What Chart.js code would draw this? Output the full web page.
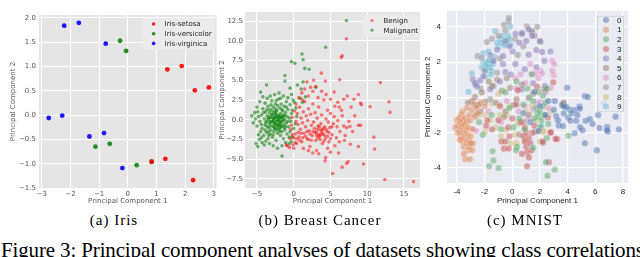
<!DOCTYPE html>
<html>
<head>
<meta charset="utf-8">
<script src="https://cdn.jsdelivr.net/npm/chart.js@4.4.0/dist/chart.umd.min.js"></script>
<style>
  html, body { margin: 0; padding: 0; background: #fff; }
  body { width: 640px; height: 257px; overflow: hidden; position: relative; }
  canvas { position: absolute; top: 0; }
  #irisChart { left: 0; }
  #cancerChart { left: 217px; }
  #mnistChart { left: 423px; }
  .sub { position: absolute; top: 213px; font: 15px "Liberation Serif", serif; line-height: 15px;
         letter-spacing: 1px; white-space: nowrap; transform: translateX(-50%); color: #000; }
  #figcap { position: absolute; left: 1px; top: 240px; font: 21px "Liberation Serif", serif;
            line-height: 21px; white-space: nowrap; color: #000; }
</style>
</head>
<body>
<canvas id="irisChart" width="218" height="207"></canvas>
<canvas id="cancerChart" width="206" height="207"></canvas>
<canvas id="mnistChart" width="217" height="207"></canvas>
<div class="sub" style="left:114px">(a) Iris</div>
<div class="sub" style="left:320px">(b) Breast Cancer</div>
<div class="sub" style="left:525px">(c) MNIST</div>
<div id="figcap">Figure 3: Principal component analyses of datasets showing class correlations</div>
<script>
// ---- Iris ----
const irisLabels = ['Iris-setosa', 'Iris-versicolor', 'Iris-virginica'];
const irisSetosa = [[1.38, 0.94], [1.88, 1.01], [2.34, 0.51], [2.83, 0.57], [1.31, -0.90], [2.28, -1.34], [0.83, -0.96]];
const irisVersicolor = [[-0.27, 1.53], [-0.06, 1.32], [-1.13, -0.65], [-0.63, -0.59], [0.31, -1.03], [0.83, -0.96]];
const irisVirginica = [[-2.76, -0.06], [-2.29, -0.01], [-2.22, 1.84], [-1.71, 1.90], [-0.77, 1.47], [-1.34, -0.44],
  [-0.83, -0.37], [-0.19, -1.09]];
const irisXTicks = [-3, -2, -1, 0, 1, 2, 3];
const irisYTicks = [-1.5, -1.0, -0.5, 0.0, 0.5, 1.0, 1.5, 2.0];

// ---- Breast Cancer ----
const cancerLabels = ['Benign', 'Malignant'];
const benign = [
  [0.2, -1.8], [0.4, -3.0], [0.5, 0.8], [0.6, -0.6], [0.7, -2.2], [0.8, 1.6], [0.9, -1.2], [1.0, 0.2], [1.1, -2.8],
  [1.2, -0.4], [1.3, 1.0], [1.4, -1.7], [1.5, 2.3], [1.6, -0.9], [1.7, 0.5], [1.8, -2.4], [1.9, -0.1], [2.0, 1.4],
  [2.1, -1.4], [2.2, -3.4], [2.3, 0.7], [2.4, -0.7], [2.5, -2.0], [2.6, 2.0], [2.7, -0.3], [2.8, -1.1], [2.9, 0.9],
  [3.0, -2.6], [3.1, -1.6], [3.2, 0.2], [3.3, -0.8], [3.4, 1.6], [3.5, -2.1], [3.6, -1.3], [3.7, -0.5], [3.8, 0.6],
  [3.9, -3.0], [4.0, -1.8], [4.1, 2.5], [4.2, -0.9], [4.3, -2.4], [4.4, 0.1], [4.5, -1.5], [4.6, 1.2], [4.7, -0.3],
  [4.8, -2.8], [4.9, -1.0], [5.0, 0.8], [5.2, -1.9], [5.4, -0.5], [5.6, 1.7], [5.8, -2.3], [6.0, -0.1], [6.3, -1.5],
  [6.6, 0.5], [6.9, -2.6], [7.2, -1.0], [3.2, -1.2], [3.4, -1.9], [3.6, -2.5], [3.8, -1.6], [4.0, -1.1], [4.2, -2.0],
  [3.3, -2.3], [3.5, -0.9], [3.7, -1.9], [3.9, -1.3], [4.1, -2.7], [3.1, -2.0], [2.9, -1.6], [4.4, -1.2], [4.6, -2.1],
  [4.8, -1.6], [5.0, -2.4], [5.2, -0.9], [2.6, -1.5], [2.4, -2.6], [2.2, -1.8], [2.0, -2.5], [1.8, -1.5], [1.6, -2.1],
  [1.2, -2.3], [1.0, -1.7], [0.8, -2.6], [0.6, -1.6], [0.4, -2.4], [0.2, -2.9], [0.0, -2.3], [-0.2, -1.9], [-0.1, -3.2],
  [-0.6, -3.5], [-0.9, -3.3], [-0.4, -1.2], [-0.2, 0.3], [0.1, 1.1], [0.3, 2.0], [0.7, 2.8], [1.1, 3.4], [1.5, 3.9],
  [1.2, 2.5], [2.0, 3.0], [2.6, 3.6], [3.0, 4.2], [3.3, 2.8], [3.8, 3.6], [4.4, 3.2], [5.0, 2.6], [5.5, 3.5], [6.0, 2.2],
  [6.5, 1.2], [6.8, 2.6], [7.3, 3.0], [7.8, 1.6], [8.2, 2.6], [8.8, 3.2], [9.1, 2.1], [9.2, 1.9], [10.4, 1.65],
  [12.96, 2.28], [13.1, 0.93], [11.78, 4.7], [6.25, 5.07], [3.76, 5.9], [1.8, 4.8], [2.3, 4.1], [4.3, 4.9], [2.7, 5.0],
  [6.48, 7.9], [6.6, 8.1], [7.16, 10.24], [1.3, -3.6], [2.0, -3.9], [2.6, -4.2], [3.1, -3.9], [3.4, -4.3], [4.25, -5.2],
  [4.35, -4.8], [5.3, -6.8], [6.6, -6.0], [7.2, -5.5], [7.4, -5.3], [9.5, -5.6], [12.4, -7.57], [16.3, -7.83],
  [10.9, -2.2], [11.0, -3.7], [8.8, -3.4], [7.7, -3.1], [8.8, -0.7], [9.1, -0.7], [7.65, -0.85], [5.6, -3.3], [6.1, -4.2],
  [5.0, -4.1], [4.6, -3.6], [6.2, -2.8], [7.0, -2.0], [7.5, -0.2], [8.3, 0.5], [6.8, -0.8], [5.9, -0.9], [5.5, 0.4],
  [6.2, 1.6], [8.0, -1.5], [0.0, -3.6], [-0.5, -2.4], [-1.0, -3.2], [-0.3, -0.7], [0.3, -0.2]
];
const malignant = [
  [-4.6, -0.2], [-4.4, 0.6], [-4.3, -1.1], [-4.2, 1.4], [-4.1, -2.0], [-4.0, 0.1], [-3.9, -0.7], [-3.9, 2.1], [-3.8, 1.0],
  [-3.7, -1.6], [-3.7, -0.2], [-3.6, 0.5], [-3.5, -2.4], [-3.5, 1.7], [-3.4, -1.0], [-3.4, 0.0], [-3.3, 0.9], [-3.3, -0.5],
  [-3.2, -1.8], [-3.2, 1.3], [-3.1, 0.3], [-3.1, -1.3], [-3.0, -0.2], [-3.0, 2.4], [-2.9, 0.7], [-2.9, -2.2], [-2.8, -0.8],
  [-2.8, 1.6], [-2.7, 0.1], [-2.7, -1.5], [-2.6, 0.9], [-2.6, -0.4], [-2.5, 2.0], [-2.5, -1.1], [-2.4, 0.4], [-2.4, -2.6],
  [-2.3, -0.1], [-2.3, 1.2], [-2.2, -1.7], [-2.2, 0.6], [-2.1, -0.7], [-2.1, 2.6], [-2.0, 0.1], [-2.0, -1.2], [-1.9, 1.5],
  [-1.9, -0.3], [-1.8, -2.0], [-1.8, 0.8], [-1.7, -0.9], [-1.7, 2.0], [-1.6, 0.3], [-1.6, -1.5], [-1.5, -0.2], [-1.5, 1.1],
  [-1.4, -2.4], [-1.4, 0.6], [-1.3, -0.6], [-1.3, 1.7], [-1.2, 0.0], [-1.2, -1.3], [-1.1, 0.9], [-1.0, -0.4], [-1.0, 2.3],
  [-0.9, -1.8], [-0.9, 0.4], [-0.8, 1.3], [-0.7, -0.9], [-0.6, 0.2], [-0.5, -1.5], [-0.5, 1.9], [-0.4, -0.2], [-0.3, 0.8],
  [-0.2, -2.2], [-0.1, 2.5], [-3.6, -0.9], [-3.3, 0.3], [-2.9, -0.3], [-2.6, 0.3], [-2.4, -0.6], [-2.2, -0.2], [-2.0, 0.4],
  [-1.8, -0.5], [-3.0, 0.6], [-2.7, -0.9], [-2.5, 0.7], [-2.3, -1.3], [-2.1, 0.0], [-1.9, -1.0], [-3.4, -1.5], [-3.1, -0.8],
  [-2.8, 0.2], [-2.6, -1.1], [-2.4, 1.0], [-2.2, -0.9], [-1.9, 0.5], [-1.7, -0.2], [-1.5, 0.4], [-1.3, -1.0], [-3.8, -0.4],
  [-3.5, 0.2], [-3.2, -0.3], [-2.9, 1.1], [-2.7, -0.1], [-2.5, -0.5], [-2.3, 0.3], [-2.0, -0.6], [-1.8, 0.2], [-1.6, -0.8],
  [-1.4, 0.1], [-1.2, 0.5], [-4.5, -1.5], [-4.8, 0.4], [-5.0, -0.8], [-5.2, 0.1], [-4.9, 1.0], [-4.7, -2.5], [-4.3, -2.9],
  [-4.0, -3.2], [-3.8, -2.7], [-3.3, -3.0], [-2.8, -3.3], [-4.6, 2.3], [-4.2, 2.9], [-3.6, 2.7], [-3.2, 3.0], [-2.6, 3.2],
  [-2.0, 3.4], [-1.4, 3.0], [-0.8, 2.8], [-0.3, 3.2], [0.1, 2.2], [0.3, 1.5], [0.4, 0.4], [0.2, -0.5], [0.0, -1.1],
  [-0.3, -2.8], [-0.6, -3.0], [-1.1, -2.9], [-1.6, -3.3], [-2.2, -3.6], [-5.3, 0.9], [-5.7, 0.5], [-5.5, -0.4],
  [-5.1, -3.0], [-4.9, -3.4], [-4.5, 3.5], [-3.7, 4.4], [-1.2, 5.6], [-1.2, 4.9], [-0.5, 4.0], [0.5, 4.4], [1.0, 3.9],
  [0.9, 2.7], [-0.32, 7.36], [0.14, 7.15], [1.13, 8.33], [1.27, 7.6], [1.5, 6.5], [2.1, 6.4], [4.35, 9.18], [7.16, 12.56],
  [-1.6, -4.6], [1.6, 2.9], [3.0, 4.1], [1.27, 4.8], [1.2, 2.2], [-4.4, -0.6], [-4.1, 0.9], [-3.9, -1.3], [-3.6, 1.3],
  [-3.4, -2.0], [-3.1, 1.9], [-2.8, -1.9], [-2.5, 1.4], [-2.2, 1.8], [-1.9, -1.5], [-1.6, 1.3], [-1.1, -0.9], [-0.8, -0.2],
  [-4.8, -1.9], [-5.0, 1.6], [-4.4, -2.3], [-2.4, 2.4], [-1.8, 2.7], [-0.6, -2.2], [-1.0, 1.6], [-0.2, 1.2]
];
const cancerXTicks = [-5, 0, 5, 10, 15];
const cancerYTicks = [-7.5, -5.0, -2.5, 0.0, 2.5, 5.0, 7.5, 10.0, 12.5];

// ---- MNIST ----
const mnistLabels = ['0', '1', '2', '3', '4', '5', '6', '7', '8', '9'];
const digit0 = [[3.96, 0.55], [5.24, 0.07], [5.46, 0.02], [3.07, -0.2], [3.6, -0.43], [3.72, -0.52], [4.16, -0.7],
  [4.52, -0.71], [4.86, -0.52], [4.88, -0.64], [3.72, -0.91], [3.17, -1.05], [4.04, -1.14], [4.2, -1.32], [4.62, -1.32],
  [5.3, -1.32], [5.6, -1.23], [6.2, -1.0], [7.46, -1.09], [3.36, -1.59], [3.65, -1.62], [4.5, -2.03], [5.07, -1.86],
  [5.24, -2.6], [6.1, -3.0], [6.3, -1.73], [6.86, -1.68], [6.9, -1.94], [6.84, -1.86], [7.7, -1.82], [6.6, -0.35],
  [1.6, 0.32], [4.3, -0.9], [3.9, -0.55], [4.7, -1.0], [2.0, -0.5], [1.3, -1.4], [0.8, -0.9], [2.4, -1.0], [1.9, -1.9],
  [2.6, -0.2], [3.3, -1.3], [5.8, -1.5], [4.9, -1.7], [3.0, -0.7]];
const digit1 = [[-4.0, -1.3], [-3.9, -1.6], [-3.85, -1.2], [-3.8, -1.9], [-3.75, -1.45], [-3.7, -2.2], [-3.7, -1.0],
  [-3.65, -1.7], [-3.6, -2.5], [-3.6, -1.3], [-3.55, -2.0], [-3.5, -2.8], [-3.5, -1.55], [-3.45, -2.3], [-3.4, -1.15],
  [-3.4, -3.5], [-3.35, -1.85], [-3.3, -2.6], [-3.3, -1.4], [-3.25, -2.1], [-3.2, -3.0], [-3.2, -1.7], [-3.15, -2.45],
  [-3.1, -1.0], [-3.1, -2.8], [-3.07, -3.5], [-3.05, -1.3], [-3.0, -2.2], [-2.95, -0.7], [-2.9, -1.8], [-2.85, -2.6],
  [-2.8, -0.4], [-2.7, -1.1], [-2.6, -0.6], [-2.5, -0.9], [-3.8, -2.4], [-3.95, -2.0], [-3.6, -0.8], [-3.3, -0.6],
  [-2.9, -3.0], [-4.1, -1.7], [-3.5, -3.2], [-3.0, -2.6], [-2.3, -0.3], [-2.0, -0.5]];
const digit2 = [[-1.67, -3.9], [-1.36, -3.57], [-1.0, -4.0], [-1.43, -3.05], [2.44, -3.67], [2.54, -4.44], [3.07, -4.1],
  [4.05, -2.17], [1.5, -2.85], [0.34, -2.8], [0.27, -3.0], [-2.13, -2.12], [0.07, -1.7], [2.03, -1.68], [2.5, -2.3],
  [1.7, -0.6], [1.8, -0.9], [1.9, -1.1], [2.0, -0.8], [2.1, -1.3], [2.2, -0.5], [2.3, -1.0], [2.4, -0.3], [1.6, -1.2],
  [1.5, -0.2], [2.2, 0.1], [1.9, 0.3], [2.5, 0.5], [1.2, 0.0], [0.8, -0.4], [0.5, -1.2], [-0.2, -0.6], [-0.8, -1.8],
  [0.9, -1.8], [1.1, 0.5], [2.6, -1.5], [-1.5, -1.0], [-0.5, 0.3], [0.3, 0.9], [1.4, 1.3], [-2.4, -1.4]];
const digit3 = [[1.07, -3.9], [-0.6, -2.9], [-0.27, -2.9], [-0.8, -2.5], [-0.5, -2.5], [-1.47, -1.82], [2.78, -1.96],
  [3.24, -2.37], [3.13, -2.35], [2.76, -2.0], [2.96, 0.86], [2.57, -1.14], [2.64, -3.67], [0.8, -2.2], [0.9, -2.5],
  [1.0, -2.8], [1.1, -3.1], [1.2, -2.3], [1.3, -2.6], [1.4, -3.0], [1.0, -2.0], [0.7, -3.2], [1.2, -3.4], [0.9, -1.7],
  [1.45, -2.0], [0.6, -1.4], [0.0, -1.2], [-0.3, -1.7], [-1.0, -1.3], [-1.8, -1.3], [-0.9, -0.5], [0.3, -0.4], [1.6, -1.6],
  [2.2, -2.5], [0.4, 0.4], [1.8, 0.6], [-0.2, -2.2], [-1.9, -1.6]];
const digit4 = [[-1.1, 2.7], [-0.5, 3.2], [0.22, 3.6], [0.7, 3.6], [1.18, 3.85], [1.43, 3.49], [1.74, 2.69], [2.15, 2.57],
  [2.32, 2.07], [2.76, 2.6], [1.18, 2.42], [0.02, 2.6], [-0.67, 2.34], [-0.67, 1.89], [-1.36, 2.07], [-0.5, 1.44],
  [0.22, 1.89], [-2.85, 1.03], [-2.7, 0.82], [-2.56, 0.64], [-2.32, 0.96], [-1.6, 0.46], [0.7, 0.46], [1.74, 1.71],
  [2.35, 0.64], [0.5, 3.1], [-0.2, 2.9], [1.0, 3.2], [-1.6, 2.4], [-2.1, 1.2], [-0.1, 1.3], [0.9, 1.6], [1.5, 0.8],
  [-0.9, 0.9], [2.0, 3.2]];
const digit5 = [[-1.47, 0.64], [-0.75, 0.37], [-0.15, 0.55], [0.7, 0.73], [-2.2, 0.28], [-2.7, 0.02], [-2.56, -0.43],
  [-1.96, -0.25], [-0.5, -0.79], [0.1, -0.43], [3.67, -0.43], [3.7, -0.3], [2.32, 0.46], [1.67, -1.94], [2.22, -2.57],
  [-1.1, 1.0], [-0.4, 1.1], [0.3, -0.1], [-1.2, -0.3], [1.2, -1.0], [0.8, -1.4], [-0.6, -1.1], [1.5, 0.2], [-2.3, -0.8],
  [-2.9, -0.2], [0.5, -2.1], [-1.7, 0.9], [-3.2, -0.3]];
const digit6 = [[2.87, 2.07], [3.04, 1.89], [2.03, 1.53], [2.15, 1.35], [3.0, 1.26], [2.76, 0.55], [2.4, 0.37], [1.8, -0.34],
  [2.0, -0.25], [1.43, 1.35], [0.22, 1.09], [0.94, 0.82], [1.67, 1.35], [1.9, 1.09], [2.4, 0.28], [1.18, -0.07],
  [0.46, -0.79], [-1.72, -0.79], [-2.8, -1.82], [-2.6, -1.9], [0.9, -0.5], [1.5, -0.7], [0.3, 0.5], [2.6, -0.6],
  [-0.4, -0.2], [1.1, -1.2], [2.9, 1.5], [1.3, 1.9], [0.6, 1.3], [-0.8, -1.4]];
const digit7 = [[-0.27, 4.3], [-0.25, 4.5], [1.07, 4.03], [0.7, 3.67], [1.4, 3.7], [-1.84, 3.14], [-1.47, 3.32],
  [-2.5, 2.34], [-2.2, 2.25], [2.03, 3.14], [-0.5, 3.8], [-1.36, 0.64], [-2.44, -0.43], [-2.7, -0.96], [1.43, 3.76],
  [1.6, 3.49], [0.2, 3.3], [-1.0, 3.5], [-0.9, 2.2], [0.8, 2.9], [-2.0, 1.5], [-1.1, 1.4], [-2.3, 0.5], [-1.6, -0.1],
  [0.4, 2.4], [3.7, -0.35], [1.8, 4.0], [-0.6, 4.1]];
const digit8 = [[-1.47, -0.34], [-0.9, -0.4], [-0.2, -0.5], [-2.0, -1.0], [-0.9, -1.0], [-1.96, -1.94], [-1.2, -1.7],
  [-0.46, -1.86], [0.9, -2.39], [1.0, -2.5], [0.29, -2.6], [1.9, -1.92], [2.22, -1.9], [1.67, -1.32], [2.28, -1.94],
  [-0.4, -1.0], [0.4, -1.5], [-1.6, -1.3], [1.4, -0.5], [0.2, -2.1], [-2.4, -1.0], [-0.1, -2.6], [2.0, -2.5], [1.0, -0.8],
  [-0.8, -2.2], [2.8, -0.8], [-1.0, 0.2]];
const digit9 = [[-1.24, 3.76], [-0.87, 3.32], [-0.5, 2.96], [-1.0, 2.87], [-0.39, 3.22], [-0.15, 4.03], [-2.09, 1.98],
  [-1.84, 1.98], [-1.72, 1.8], [-1.84, 1.62], [-1.96, 1.53], [-1.47, 2.07], [-2.92, 1.35], [-2.7, 0.73], [-1.96, 1.18],
  [-3.17, 0.32], [-2.09, 2.51], [-1.72, 2.6], [2.1, -1.59], [-0.7, 3.5], [-0.3, 3.5], [-0.6, 3.0], [-0.8, 3.1],
  [-0.2, 3.3], [-1.1, 3.1], [-1.6, 1.7], [-1.5, 1.5], [-1.9, 1.8], [-1.7, 2.1], [-1.4, 1.9], [-1.3, 2.3], [-2.2, 1.7],
  [-1.55, 1.3], [-0.1, 3.0]];
const mnistXTicks = [-4, -2, 0, 2, 4, 6, 8];
const mnistYTicks = [-4, -2, 0, 2, 4];

// ---- helpers ----
const areaBg = {
  id: 'areaBg',
  beforeDraw(chart, args, o) {
    const { ctx, chartArea: a } = chart;
    ctx.save();
    ctx.fillStyle = o.color;
    ctx.fillRect(a.left, a.top, a.right - a.left, a.bottom - a.top);
    ctx.restore();
  }
};

// legend drawn inside the plot, top right corner
const insideLegend = {
  id: 'insideLegend',
  afterDatasetsDraw(chart, args, o) {
    const { ctx, chartArea: a } = chart;
    const x0 = a.right - o.right - o.width;
    const y0 = a.top + o.top;
    ctx.save();
    ctx.fillStyle = o.bg;
    ctx.fillRect(x0, y0, o.width, o.height);
    if (o.border) {
      ctx.strokeStyle = o.border;
      ctx.lineWidth = 0.8;
      ctx.strokeRect(x0 + 0.5, y0 + 0.5, o.width - 1, o.height - 1);
    }
    ctx.font = o.font;
    ctx.textBaseline = 'middle';
    chart.data.datasets.forEach((ds, i) => {
      const cy = y0 + o.first + o.rowH * i;
      ctx.beginPath();
      ctx.arc(x0 + o.markX, cy, o.r, 0, Math.PI * 2);
      ctx.fillStyle = ds.backgroundColor;
      ctx.fill();
      ctx.fillStyle = o.color;
      ctx.fillText(ds.label, x0 + o.textX, cy + 0.5);
    });
    ctx.restore();
  }
};

const minus = (s) => s.replace('-', '\u2212');

function axis(o) {
  return {
    type: 'linear',
    min: o.min,
    max: o.max,
    afterBuildTicks: (s) => { s.ticks = o.ticks.map((v) => ({ value: v })); },
    afterFit: (s) => {
      if (o.width) s.width = o.width;
      if (o.height) s.height = o.height;
    },
    grid: { color: '#ffffff', lineWidth: o.gridW, drawTicks: false },
    border: { display: false },
    ticks: {
      color: o.color, font: o.font, padding: o.pad, autoSkip: false, maxRotation: 0,
      callback: o.fmt
    },
    title: { display: true, text: o.title, color: o.color, font: o.font, padding: o.titlePad }
  };
}

const pts = (arr) => arr.map((p) => ({ x: p[0], y: p[1] }));
const ggFont = { family: 'DejaVu Sans', size: 7 };

// ---- (a) Iris ----
const irisColors = ['rgba(255,0,0,0.9)', 'rgba(0,128,0,0.85)', 'rgba(0,0,255,0.9)'];
new Chart(document.getElementById('irisChart'), {
  type: 'scatter',
  data: {
    datasets: [irisSetosa, irisVersicolor, irisVirginica].map((d, i) => ({
      label: irisLabels[i], data: pts(d), backgroundColor: irisColors[i],
      borderWidth: 0, pointRadius: 2.4
    }))
  },
  options: {
    responsive: false, animation: false, events: [],
    layout: { autoPadding: false, padding: { top: 15, right: 1, left: 0, bottom: 0 } },
    plugins: {
      legend: { display: false }, tooltip: { enabled: false },
      areaBg: { color: '#E5E5E5' },
      insideLegend: { right: 2, top: 3, width: 72, height: 32, first: 6, rowH: 9.7, markX: 11, textX: 22, r: 1.8,
        bg: '#EBEBEB', font: '7px "DejaVu Sans"', color: '#222' }
    },
    scales: {
      x: axis({ min: -3.1, max: 3.1, ticks: irisXTicks, height: 19, color: '#555', font: ggFont, pad: 2, gridW: 1,
        fmt: (v) => minus(String(v)), title: 'Principal Component 1', titlePad: { top: 0, bottom: 2 } }),
      y: axis({ min: -1.5, max: 2.06, ticks: irisYTicks, width: 39, color: '#555', font: ggFont, pad: 3, gridW: 1,
        fmt: (v) => minus(v.toFixed(1)), title: 'Principal Component 2', titlePad: { top: 9, bottom: 0 } })
    }
  },
  plugins: [areaBg, insideLegend]
});

// ---- (b) Breast Cancer ----
const cancerColors = ['rgba(255,0,0,0.5)', 'rgba(0,128,0,0.55)'];
new Chart(document.getElementById('cancerChart'), {
  type: 'scatter',
  data: {
    datasets: [benign, malignant].map((d, i) => ({
      label: cancerLabels[i], data: pts(d), backgroundColor: cancerColors[i],
      borderWidth: 0, pointRadius: 1.8
    }))
  },
  options: {
    responsive: false, animation: false, events: [],
    layout: { autoPadding: false, padding: { top: 12, right: 3, left: 0, bottom: 0 } },
    plugins: {
      legend: { display: false }, tooltip: { enabled: false },
      areaBg: { color: '#E5E5E5' },
      insideLegend: { right: 1, top: 3, width: 56, height: 22, first: 5.5, rowH: 9.7, markX: 9, textX: 20.5, r: 1.6,
        bg: '#EBEBEB', font: '7px "DejaVu Sans"', color: '#222' }
    },
    scales: {
      x: axis({ min: -6.63, max: 17.18, ticks: cancerXTicks, height: 19, color: '#555', font: ggFont, pad: 2, gridW: 1,
        fmt: (v) => minus(String(v)), title: 'Principal Component 1', titlePad: { top: 0, bottom: 2 } }),
      y: axis({ min: -8.64, max: 13.64, ticks: cancerYTicks, width: 28, color: '#555', font: ggFont, pad: 2, gridW: 1,
        fmt: (v) => minus(v.toFixed(1)), title: 'Principal Component 2', titlePad: { top: 1, bottom: 0 } })
    }
  },
  plugins: [areaBg, insideLegend]
});

// ---- (c) MNIST ----
const mnistColors = ['#4C72B0', '#DD8452', '#55A868', '#C44E52', '#8172B3', '#937860', '#DA8BC3', '#8C8C8C',
  '#CCB974', '#64B5CD'];
const fade = (hex, a) => {
  const n = parseInt(hex.slice(1), 16);
  return `rgba(${n >> 16},${(n >> 8) & 255},${n & 255},${a})`;
};
const mnistFont = { family: 'Liberation Sans', size: 8 };
new Chart(document.getElementById('mnistChart'), {
  type: 'scatter',
  data: {
    datasets: [digit0, digit1, digit2, digit3, digit4, digit5, digit6, digit7, digit8, digit9].map((d, i) => ({
      label: mnistLabels[i], data: pts(d), backgroundColor: fade(mnistColors[i], 0.5),
      borderColor: 'rgba(255,255,255,0.45)', borderWidth: 0.6, pointRadius: 3.3
    }))
  },
  options: {
    responsive: false, animation: false, events: [],
    layout: { autoPadding: false, padding: { top: 0, right: 12, left: 0, bottom: 0 } },
    plugins: {
      legend: { display: false }, tooltip: { enabled: false },
      areaBg: { color: '#EAEAF2' },
      insideLegend: { right: 4, top: 5, width: 27, height: 96, first: 4.3, rowH: 9.6, markX: 9, textX: 20, r: 3,
        bg: 'rgba(234,234,242,0.8)', border: '#d0d0d0', font: '8px "Liberation Sans"', color: '#111' }
    },
    scales: {
      x: axis({ min: -4.72, max: 8.36, ticks: mnistXTicks, height: 24, color: '#262626', font: mnistFont, pad: 4,
        gridW: 1.2, fmt: (v) => String(v), title: 'Principal Component 1', titlePad: { top: 0, bottom: 1 } }),
      y: axis({ min: -4.85, max: 4.91, ticks: mnistYTicks, width: 24, color: '#262626', font: mnistFont, pad: 6,
        gridW: 1.2, fmt: (v) => String(v), title: 'Principal Component 2', titlePad: { top: 0, bottom: 0 } })
    }
  },
  plugins: [areaBg, insideLegend]
});

// stretch the figure caption to the page width
const cap = document.getElementById('figcap');
const w = cap.getBoundingClientRect().width;
cap.style.letterSpacing = ((643 - w) / (cap.textContent.length - 1)) + 'px';
</script>
</body>
</html>
